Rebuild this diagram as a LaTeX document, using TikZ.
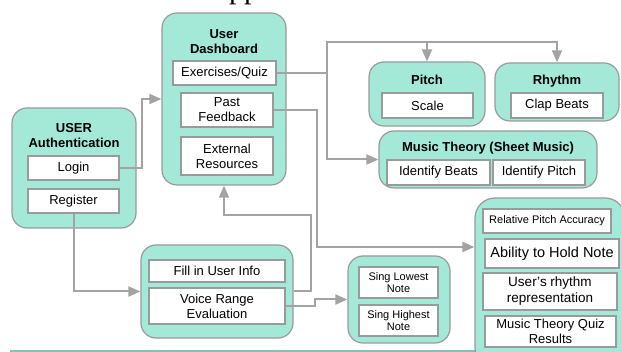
\documentclass[tikz,border=0pt]{standalone}
\usepackage{fontspec}
\setmainfont{Liberation Sans}
\newfontfamily\serifpp{Liberation Serif}
\usetikzlibrary{arrows.meta}
\definecolor{mint}{HTML}{A4E8D8}
\definecolor{bordergray}{HTML}{9A9A9A}
\definecolor{arrowgray}{HTML}{A3A3A3}
\definecolor{tealline}{HTML}{7FC4B5}
\tikzset{
  outerbox/.style={draw=bordergray,line width=1.2pt,fill=mint,rounded corners=15pt,inner sep=0pt},
  itembox/.style={draw=bordergray,line width=1.2pt,fill=white,inner sep=1pt,align=center,font=\fontsize{13}{15}\selectfont},
  smallitem/.style={itembox,font=\fontsize{11}{12.5}\selectfont},
  titletext/.style={font=\bfseries\fontsize{13}{15}\selectfont,align=center,inner sep=0pt},
  arr/.style={draw=arrowgray,line width=2pt,-{Triangle[length=12pt,width=10pt]}},
  bottomline/.style={draw=tealline,line width=1.2pt}
}
\begin{document}
\begin{tikzpicture}[x=1pt,y=-1pt]
\useasboundingbox (0,0) rectangle (621,352);

% cropped title fragment at the top
\node[font=\serifpp\fontsize{30}{30}\selectfont,anchor=base west,inner sep=0pt] (ttl) at (229,-1) {pp};

% bottom line
\coordinate (bl1) at (10,351);
\coordinate (bl2) at (478,351);
\draw[bottomline] (bl1) -- (bl2);

% outer group boxes
\node[outerbox,minimum width=124pt,minimum height=120pt] (auth) at (74,168) {};
\node[outerbox,minimum width=124pt,minimum height=172pt] (dash) at (224,99) {};
\node[outerbox,minimum width=116pt,minimum height=64pt] (pitch) at (427,94) {};
\node[outerbox,minimum width=124pt,minimum height=58pt] (rhythm) at (557,92) {};
\node[outerbox,minimum width=218pt,minimum height=57pt] (mt) at (488,159.5) {};
\node[outerbox,minimum width=152pt,minimum height=93pt] (regbox) at (217,291.5) {};
\node[outerbox,minimum width=102pt,minimum height=87pt] (sing) at (399,299.5) {};
\node[outerbox,rounded corners=20pt,minimum width=150pt,minimum height=170pt] (resbox) at (550,283) {};

% titles
\node[titletext] (authT) at (74,136) {USER\\Authentication};
\node[titletext] (dashT) at (224,41.5) {User\\Dashboard};
\node[titletext] (pitchT) at (427,80) {Pitch};
\node[titletext] (rhythmT) at (557,81) {Rhythm};
\node[titletext] (mtT) at (488,148) {Music Theory (Sheet Music)};

% items
\node[itembox,minimum width=91pt,minimum height=24pt] (login) at (73.5,168) {Login};
\node[itembox,minimum width=91pt,minimum height=24pt] (register) at (73.5,201) {Register};
\node[itembox,minimum width=103pt,minimum height=24pt] (exq) at (224.5,73) {Exercises/Quiz};
\node[itembox,minimum width=92pt,minimum height=34pt] (pastfb) at (227,110) {Past\\Feedback};
\node[itembox,minimum width=92pt,minimum height=38pt] (ext) at (227,156) {External\\Resources};
\node[itembox,minimum width=91pt,minimum height=25pt] (scale) at (427.5,105.5) {Scale};
\node[itembox,minimum width=92pt,minimum height=25pt] (clap) at (557,105.5) {Clap Beats};
\node[itembox,minimum width=103pt,minimum height=25pt] (idbeats) at (438.5,172.5) {Identify Beats};
\node[itembox,minimum width=92pt,minimum height=25pt] (idpitch) at (539,172.5) {Identify Pitch};
\node[itembox,minimum width=136pt,minimum height=22pt] (fill) at (217,271) {Fill in User Info};
\node[itembox,minimum width=136pt,minimum height=36pt] (voice) at (217,306) {Voice Range\\Evaluation};
\node[smallitem,minimum width=79pt,minimum height=31pt] (lowest) at (398.5,282.5) {Sing Lowest\\Note};
\node[smallitem,minimum width=79pt,minimum height=31pt] (highest) at (398.5,320.5) {Sing Highest\\Note};
\node[itembox,font=\fontsize{11}{13}\selectfont,minimum width=128pt,minimum height=24pt] (rpa) at (547,221) {Relative Pitch Accuracy};
\node[itembox,font=\fontsize{14.5}{16}\selectfont,minimum width=134pt,minimum height=29pt] (hold) at (552,253.5) {Ability to Hold Note};
\node[itembox,font=\fontsize{13.5}{16}\selectfont,minimum width=134pt,minimum height=37pt] (rhyrep) at (550,291.5) {User’s rhythm\\representation};
\node[itembox,font=\fontsize{13}{15}\selectfont,minimum width=131pt,minimum height=31pt] (mtq) at (550.5,331.5) {Music Theory Quiz\\Results};

% connectors
\draw[arr] (login.east) -- ++(22,0) |- (dash.west);
\draw[arr] (register.south) |- (regbox.west);

\coordinate (j1) at (327,73);
\coordinate (j2) at (327,42);
\draw[arr] (exq.east) -- (j1) |- (mt.west);
\draw[arr] (j1) -- (j2) -| (rhythm.north);
\draw[arr] (pitch.north |- j2) -- (pitch.north);

\coordinate (c247) at (317,247);
\draw[arr] (pastfb.east) -| (c247) -- (c247 -| resbox.west);

\coordinate (k1) at (311,215);
\draw[arr] (regbox.east) -| (k1) -| (dash.south);

\coordinate (s1) at (315,306);
\draw[arr] (voice.east) -- (s1) |- (sing.west);
\end{tikzpicture}
\end{document}
